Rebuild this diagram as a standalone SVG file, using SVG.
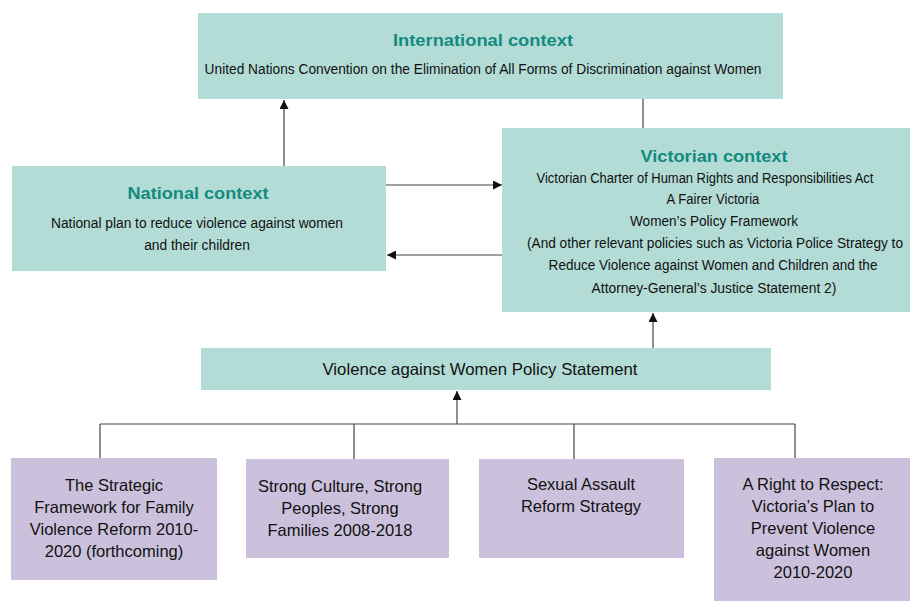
<svg xmlns="http://www.w3.org/2000/svg" width="912" height="601" viewBox="0 0 912 601">
<style>
.teal{fill:#b3dcd6}
.purple{fill:#cbc1dc}
.ttl{font-family:"Liberation Sans",Arial,sans-serif;font-weight:bold;font-size:16px;fill:#138a80;text-anchor:middle}
.cn{font-family:"Liberation Sans",Arial,sans-serif;font-size:15.5px;fill:#111;text-anchor:middle}
.rg{font-family:"Liberation Sans",Arial,sans-serif;font-size:16.5px;fill:#111;text-anchor:middle}
.ln{stroke:#444;stroke-width:1.2;fill:none}
</style>
<defs>
<marker id="ah" viewBox="0 0 10 10" refX="10" refY="5" markerWidth="9" markerHeight="9" markerUnits="userSpaceOnUse" orient="auto">
<path d="M0,0 L10,5 L0,10 z" fill="#111"/>
</marker>
</defs>
<rect width="912" height="601" fill="#ffffff"/>
<g id="connectors">
<line class="ln" x1="284" y1="166" x2="284" y2="100" marker-end="url(#ah)"/>
<line class="ln" x1="643" y1="99" x2="643" y2="128"/>
<line class="ln" x1="386" y1="185" x2="502" y2="185" marker-end="url(#ah)"/>
<line class="ln" x1="502" y1="255" x2="387" y2="255" marker-end="url(#ah)"/>
<line class="ln" x1="653" y1="348" x2="653" y2="313" marker-end="url(#ah)"/>
<line class="ln" x1="457" y1="424" x2="457" y2="391" marker-end="url(#ah)"/>
<line class="ln" x1="100" y1="424" x2="795" y2="424"/>
<line class="ln" x1="100" y1="424" x2="100" y2="458"/>
<line class="ln" x1="354" y1="424" x2="354" y2="459"/>
<line class="ln" x1="574" y1="424" x2="574" y2="459"/>
<line class="ln" x1="795" y1="424" x2="795" y2="458"/>
</g>
<g id="international">
<rect class="teal" x="198" y="13" width="585" height="86"/>
<text class="ttl" x="483" y="46" textLength="180" lengthAdjust="spacingAndGlyphs">International context</text>
<text class="cn" transform="translate(483,74) scale(0.8,1)" x="0" y="0" textLength="696" lengthAdjust="spacingAndGlyphs">United Nations Convention on the Elimination of All Forms of Discrimination against Women</text>
</g>
<g id="national">
<rect class="teal" x="12" y="166" width="374" height="105"/>
<text class="ttl" x="198" y="199" textLength="141" lengthAdjust="spacingAndGlyphs">National context</text>
<text class="cn" transform="translate(197,228) scale(0.8,1)" x="0" y="0" textLength="365" lengthAdjust="spacingAndGlyphs">National plan to reduce violence against women</text>
<text class="cn" transform="translate(197,250) scale(0.8,1)" x="0" y="0" textLength="132" lengthAdjust="spacingAndGlyphs">and their children</text>
</g>
<g id="victorian">
<rect class="teal" x="502" y="128" width="408" height="184"/>
<text class="ttl" x="714" y="162" textLength="147" lengthAdjust="spacingAndGlyphs">Victorian context</text>
<text class="cn" transform="translate(705,183) scale(0.8,1)" x="0" y="0" textLength="421" lengthAdjust="spacingAndGlyphs">Victorian Charter of Human Rights and Responsibilities Act</text>
<text class="cn" transform="translate(713,204) scale(0.8,1)" x="0" y="0" textLength="116" lengthAdjust="spacingAndGlyphs">A Fairer Victoria</text>
<text class="cn" transform="translate(714,226) scale(0.8,1)" x="0" y="0" textLength="210" lengthAdjust="spacingAndGlyphs">Women’s Policy Framework</text>
<text class="cn" transform="translate(715,248) scale(0.8,1)" x="0" y="0" textLength="470" lengthAdjust="spacingAndGlyphs">(And other relevant policies such as Victoria Police Strategy to</text>
<text class="cn" transform="translate(713,270) scale(0.8,1)" x="0" y="0" textLength="411" lengthAdjust="spacingAndGlyphs">Reduce Violence against Women and Children and the</text>
<text class="cn" transform="translate(714,293) scale(0.8,1)" x="0" y="0" textLength="306" lengthAdjust="spacingAndGlyphs">Attorney-General’s Justice Statement 2)</text>
</g>
<g id="policy">
<rect class="teal" x="201" y="348" width="570" height="42"/>
<text class="rg" x="480" y="375" textLength="315" lengthAdjust="spacingAndGlyphs">Violence against Women Policy Statement</text>
</g>
<g id="strategic">
<rect class="purple" x="11" y="458" width="206" height="122"/>
<text class="rg" x="114" y="491">The Strategic</text>
<text class="rg" x="114" y="513">Framework for Family</text>
<text class="rg" x="114" y="535">Violence Reform 2010-</text>
<text class="rg" x="114" y="557">2020 (forthcoming)</text>
</g>
<g id="culture">
<rect class="purple" x="246" y="459" width="203" height="99"/>
<text class="rg" x="340" y="492">Strong Culture, Strong</text>
<text class="rg" x="340" y="514">Peoples, Strong</text>
<text class="rg" x="340" y="536">Families 2008-2018</text>
</g>
<g id="sexual">
<rect class="purple" x="479" y="459" width="205" height="99"/>
<text class="rg" x="581" y="490">Sexual Assault</text>
<text class="rg" x="581" y="512">Reform Strategy</text>
</g>
<g id="respect">
<rect class="purple" x="714" y="458" width="196" height="143"/>
<text class="rg" x="813" y="490">A Right to Respect:</text>
<text class="rg" x="813" y="512">Victoria’s Plan to</text>
<text class="rg" x="813" y="534">Prevent Violence</text>
<text class="rg" x="813" y="556">against Women</text>
<text class="rg" x="813" y="578">2010-2020</text>
</g>
</svg>
